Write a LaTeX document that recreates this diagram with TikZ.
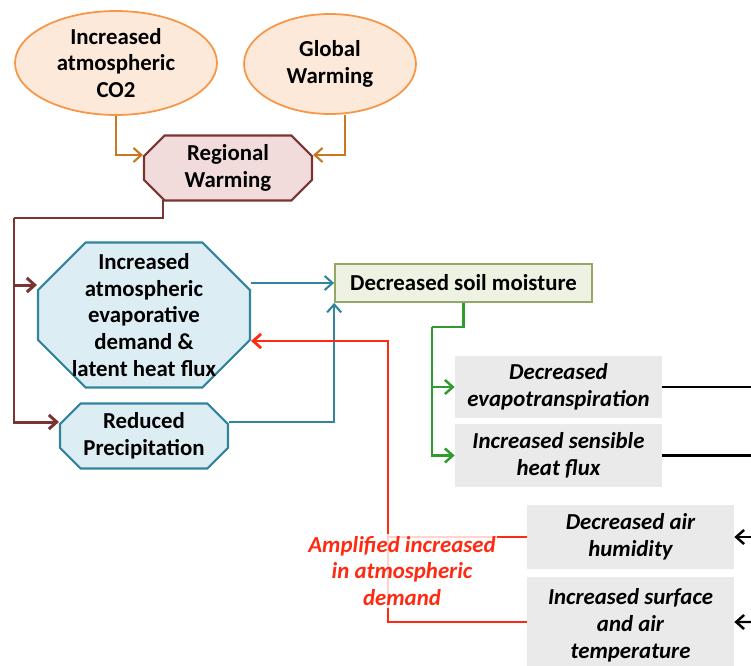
\documentclass[tikz,border=0pt]{standalone}
\usepackage{fontspec}
\setmainfont{Carlito}
\usetikzlibrary{shapes.geometric,shapes.misc,arrows.meta}
\definecolor{peach}{HTML}{FCE9DA}
\definecolor{peachline}{HTML}{F79646}
\definecolor{amber}{HTML}{C8781E}
\definecolor{rose}{HTML}{F2DCDB}
\definecolor{maroon}{HTML}{7A3431}
\definecolor{iceblue}{HTML}{DCEDF3}
\definecolor{seablue}{HTML}{31849B}
\definecolor{sage}{HTML}{EEF2E2}
\definecolor{sageline}{HTML}{93A866}
\definecolor{leaf}{HTML}{2E9B2E}
\definecolor{mist}{HTML}{EAEAEA}
\definecolor{flame}{HTML}{FF2A12}
\begin{document}
\begin{tikzpicture}[x=0.02cm,y=-0.02cm,
  font=\fontsize{13}{15.3}\selectfont\bfseries,
  bubble/.style={ellipse,draw=peachline,fill=peach,line width=1pt,align=center,inner sep=0pt},
  octo/.style={chamfered rectangle,chamfered rectangle xsep=#1,line width=1.2pt,align=center,inner sep=0pt},
  greybox/.style={rectangle,fill=mist,align=center,inner sep=0pt,minimum width=4.14cm,font=\fontsize{13}{15.3}\selectfont\bfseries\itshape},
  tip/.style={-{Straight Barb[length=4.5pt,width=8pt]}}]
\clip (0,0) rectangle (751,666);
% drivers
\node[bubble,minimum width=4.04cm,minimum height=2.08cm] (co2) at (116,63) {Increased\\atmospheric\\CO2};
\node[bubble,minimum width=3.44cm,minimum height=2cm] (gw) at (330,64) {Global\\Warming};
\node[octo=0.3cm,draw=maroon,fill=rose,minimum width=3.36cm,minimum height=1.3cm] (regional) at (228,168) {Regional\\Warming};
\draw[amber,line width=1.2pt,tip] (co2.south) |- ([yshift=0.26cm]regional.west);
\draw[amber,line width=1.2pt,tip] (gw.south -| 345,0) |- ([yshift=0.26cm]regional.east);
% atmosphere
\node[octo=0.84cm,draw=seablue,fill=iceblue,minimum width=4.24cm,minimum height=2.9cm] (demand) at (144,315) {Increased\\atmospheric\\evaporative\\demand \&\\\makebox[2.4cm]{latent heat flux}};
\node[octo=0.3cm,draw=seablue,fill=iceblue,minimum width=3.36cm,minimum height=1.3cm] (precip) at (144,436) {Reduced\\Precipitation};
\coordinate (rs) at (163,200);
\coordinate (bj) at (14,218);
\draw[maroon,line width=1.7pt] (rs) |- (bj);
\draw[maroon,line width=1.7pt,tip] (bj) |- ([yshift=0.6cm]demand.west);
\draw[maroon,line width=1.7pt,tip] (bj) |- ([yshift=0.28cm]precip.west);
% soil
\node[draw=sageline,fill=sage,line width=1pt,minimum width=5.14cm,minimum height=0.76cm,inner sep=0pt] (soil) at (463.5,283) {Decreased soil moisture};
\draw[seablue,line width=1.2pt,tip] (soil.west -| demand.east) -- (soil.west);
\draw[seablue,line width=1.2pt,tip] ([yshift=0.28cm]precip.east) -| (soil.south west);
% land surface response
\node[greybox,minimum height=1.24cm] (evapo) at (558.5,387) {Decreased\\evapotranspiration};
\node[greybox,minimum height=1.26cm] (sensible) at (558.5,455.5) {Increased sensible\\heat flux};
\coordinate (gj) at (432,327);
\draw[leaf,line width=1.4pt] (soil.south) |- (gj);
\draw[leaf,line width=1.4pt,tip] (gj) |- (evapo.west);
\draw[leaf,line width=1.4pt,tip] (gj) |- (sensible.west);
\draw[line width=1.4pt] (evapo.east) -- (751,387);
\draw[line width=1.4pt] (sensible.east) -- (751,455.5);
% air response
\node[greybox,minimum height=1.28cm] (humid) at (630.5,537) {Decreased air\\humidity};
\node[greybox,minimum height=1.92cm] (temp) at (630.5,625) {Increased surface\\and air\\temperature};
\draw[line width=1.4pt,tip] (751,537) -- (humid.east);
\draw[line width=1.4pt,tip] (751,622) -- ([yshift=0.06cm]temp.east);
% feedback
\coordinate (rj) at (388,341);
\draw[flame,line width=1.6pt] (humid.west) -- (humid.west -| rj);
\draw[flame,line width=1.6pt,tip] ([yshift=0.06cm]temp.west) -| (rj) -- (rj -| demand.east);
\node[flame,fill=white,fill opacity=0.8,text opacity=1,align=center,inner sep=1pt,font=\fontsize{13}{15.3}\selectfont\bfseries\itshape] (amp) at (402,571) {Amplified increased\\in atmospheric\\demand};
\end{tikzpicture}
\end{document}
